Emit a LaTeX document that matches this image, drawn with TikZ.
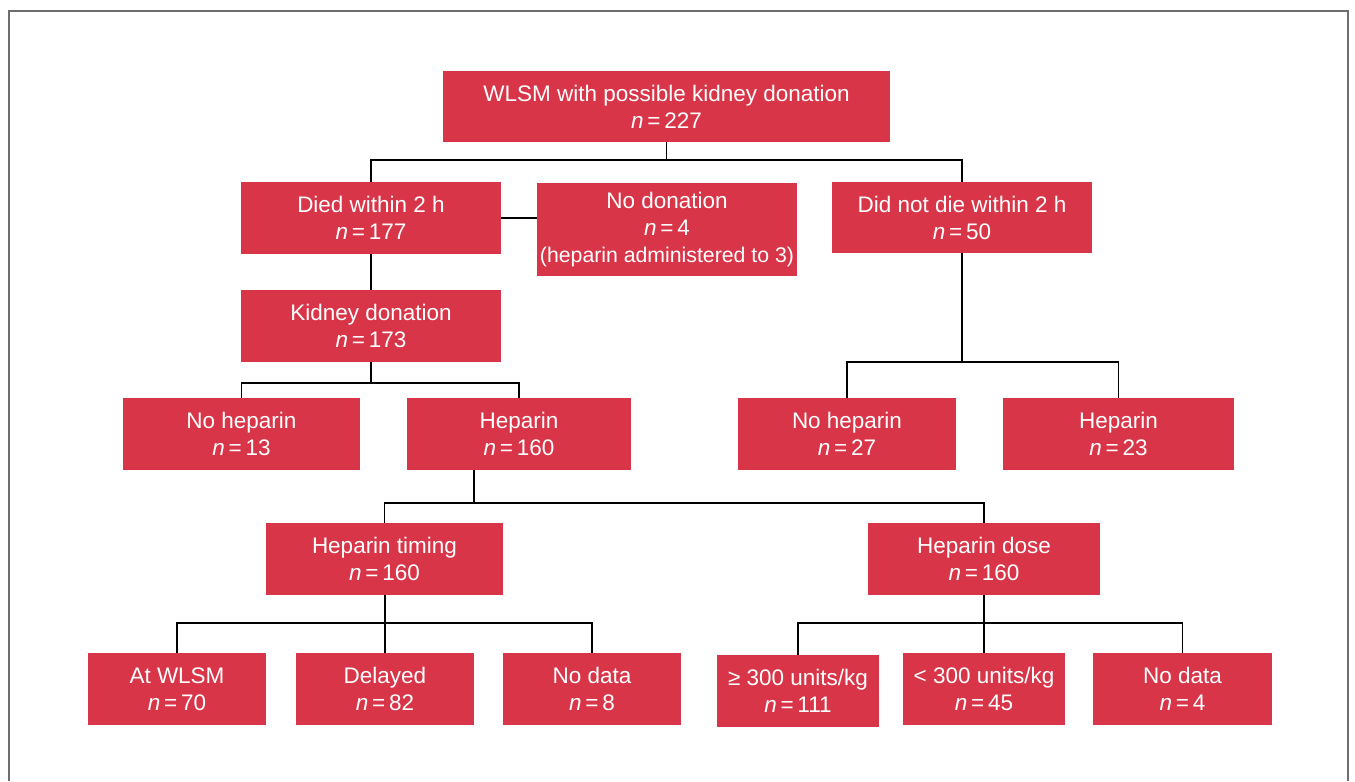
\documentclass[tikz,border=0pt]{standalone}
\usepackage{fontspec}
\setmainfont{Liberation Sans}
\newcommand{\nval}[1]{\textit{n}\,=\,#1}

\begin{document}
\begin{tikzpicture}[x=0.02cm,y=-0.02cm,
    box/.style={fill={rgb,255:red,217; green,53; blue,72}, text=white, align=center, inner sep=0pt, font=\fontsize{12.8}{15.4}\selectfont},
    link/.style={black, line width=0.6pt}]
    \useasboundingbox (0,0) rectangle (1355,781);
    %frame
    \draw [color={rgb,255:red,110; green,110; blue,110},line width=0.7pt] (9,781) -- (9,11) -- (1348,11) -- (1348,781);

    %top
    \node [box, minimum width=8.94cm, minimum height=1.42cm] (wlsm) at (666.5,106.5) {WLSM with possible kidney donation\\\nval{227}};
    \node [box, minimum width=5.2cm, minimum height=1.44cm] (died) at (371,218) {Died within 2 h\\\nval{177}};
    \node [box, minimum width=5.2cm, minimum height=1.86cm] (nodon) at (667,229.5) {No donation\\\nval{4}\\{\fontsize{12.1}{15.4}\selectfont (heparin administered to 3)}};
    \node [box, minimum width=5.2cm, minimum height=1.42cm] (notdie) at (962,217.5) {Did not die within 2 h\\\nval{50}};
    \node [box, minimum width=5.2cm, minimum height=1.44cm] (kidney) at (371,326) {Kidney donation\\\nval{173}};

    %heparin yes/no
    \node [box, minimum width=4.74cm, minimum height=1.44cm] (nohepl) at (241.5,434) {No heparin\\\nval{13}};
    \node [box, minimum width=4.48cm, minimum height=1.44cm] (hepl) at (519,434) {Heparin\\\nval{160}};
    \node [box, minimum width=4.36cm, minimum height=1.44cm] (nohepr) at (847,434) {No heparin\\\nval{27}};
    \node [box, minimum width=4.62cm, minimum height=1.44cm] (hepr) at (1118.5,434) {Heparin\\\nval{23}};

    %timing and dose
    \node [box, minimum width=4.74cm, minimum height=1.44cm] (timing) at (384.5,559) {Heparin timing\\\nval{160}};
    \node [box, minimum width=4.64cm, minimum height=1.44cm] (dose) at (984,559) {Heparin dose\\\nval{160}};

    \node [box, minimum width=3.56cm, minimum height=1.44cm] (atwlsm) at (177,689) {At WLSM\\\nval{70}};
    \node [box, minimum width=3.56cm, minimum height=1.44cm] (delayed) at (385,689) {Delayed\\\nval{82}};
    \node [box, minimum width=3.56cm, minimum height=1.44cm] (nodatal) at (592,689) {No data\\\nval{8}};
    \node [box, minimum width=3.24cm, minimum height=1.44cm] (ge300) at (798,691) {≥ 300 units/kg\\\nval{111}};
    \node [box, minimum width=3.24cm, minimum height=1.44cm] (lt300) at (984,689) {< 300 units/kg\\\nval{45}};
    \node [box, minimum width=3.58cm, minimum height=1.44cm] (nodatar) at (1182.5,689) {No data\\\nval{4}};

    %links
    \coordinate (split1) at (666.5,160);
    \coordinate (split2) at (371,383);
    \coordinate (split3) at (962,362);
    \coordinate (split4) at (474,503);
    \coordinate (split5) at (385,623);
    \coordinate (split6) at (984,623);

    \draw [link] (wlsm.south) -- (split1);
    \draw [link] (died.north) |- (split1) -| (notdie.north);
    \draw [link] (died.east) -- (died.east -| nodon.west);
    \draw [link] (died.south) -- (kidney.north);
    \draw [link] (kidney.south) -- (split2);
    \draw [link] (nohepl.north) |- (split2) -| (hepl.north);
    \draw [link] (notdie.south) -- (split3);
    \draw [link] (nohepr.north) |- (split3) -| (hepr.north);
    \draw [link] (hepl.south -| split4) -- (split4);
    \draw [link] (timing.north) |- (split4) -| (dose.north);
    \draw [link] (timing.south -| split5) -- (split5);
    \draw [link] (atwlsm.north) |- (split5) -| (nodatal.north);
    \draw [link] (split5) -- (delayed.north);
    \draw [link] (dose.south) -- (split6);
    \draw [link] (ge300.north) |- (split6) -| (nodatar.north);
    \draw [link] (split6) -- (lt300.north);
\end{tikzpicture}
\end{document}
